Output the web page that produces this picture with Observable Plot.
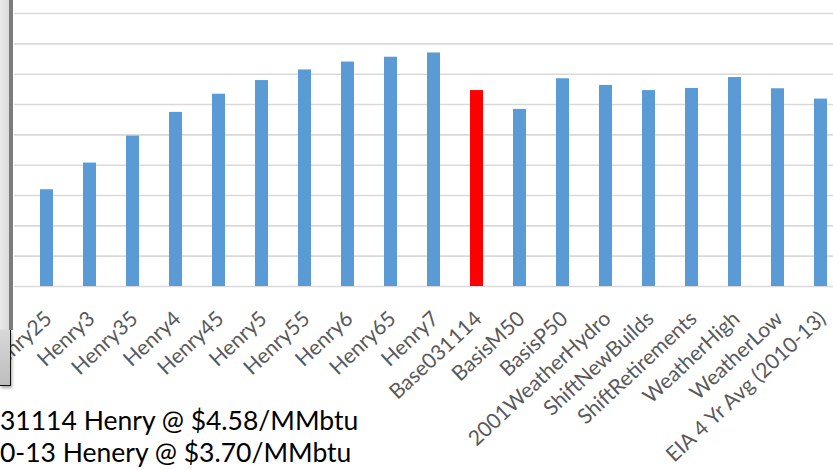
<!DOCTYPE html>
<html>
<head>
<meta charset="utf-8">
<script src="https://cdn.jsdelivr.net/npm/d3@7"></script>
<script src="https://cdn.jsdelivr.net/npm/@observablehq/plot@0.6"></script>
<style>
  html, body { margin: 0; padding: 0; background: #ffffff; overflow: hidden; }
  #wrap { position: relative; width: 833px; height: 470px; overflow: hidden; }
  #chart { position: absolute; left: 0; top: 0; }
  .note { position: absolute; font-family: Lato, "Open Sans", sans-serif; font-size: 26.5px; color: #000; white-space: nowrap; line-height: 1; }
  #panelTop { position: absolute; left: 0; top: 0; width: 9px; height: 330px;
    background: linear-gradient(to right, #e9e9e9, #dcdcdc); border-right: 4px solid #7c7c7c; }
  #panelBox { position: absolute; left: 0; top: 330px; width: 10px; height: 55px;
    background: linear-gradient(to bottom, #d8d8d8, #bdbdbd); border-right: 1.5px solid #111; border-bottom: 1.5px solid #111;
    box-shadow: 1px 2px 3px rgba(0,0,0,0.35); }
</style>
</head>
<body>
<div id="wrap">
  <div id="chart"></div>
  <div id="panelTop"></div>
  <div id="panelBox"></div>
  <div class="note" id="note1"></div>
  <div class="note" id="note2"></div>
</div>
<script>
// Scenario categories (x axis)
const scenarios = [
  "Henry25", "Henry3", "Henry35", "Henry4", "Henry45", "Henry5", "Henry55",
  "Henry6", "Henry65", "Henry7", "Base031114", "BasisM50", "BasisP50",
  "2001WeatherHydro", "ShiftNewBuilds", "ShiftRetirements", "WeatherHigh",
  "WeatherLow", "EIA 4 Yr Avg (2010-13)"
];
// Bar values (in gridline units; the value axis is cropped out of the reference)
const values = [
  3.19, 4.07, 4.96, 5.74, 6.34, 6.79, 7.14,
  7.40, 7.56, 7.70, 6.46, 5.84, 6.85,
  6.63, 6.46, 6.53, 6.89,
  6.52, 6.18
];
// Highlighted scenario
const highlight = "Base031114";
// Gridline values
const gridTicks = [0, 1, 2, 3, 4, 5, 6, 7, 8, 9];
// Notes below the chart
const notes = [
  "31114 Henry @ $4.58/MMbtu",
  "0-13 Henery @ $3.70/MMbtu"
];

const data = scenarios.map((name, i) => ({name, value: values[i], hi: name === highlight}));

const chart = Plot.plot({
  width: 833,
  height: 470,
  marginTop: 0,
  marginLeft: 14,
  marginRight: 0,
  marginBottom: 184,
  style: {background: "transparent", overflow: "visible"},
  x: {domain: scenarios, range: [39.25, 826.7], paddingInner: 0.7, paddingOuter: 0, axis: null},
  y: {domain: [0, 9.43], range: [286, 0], axis: null},
  marks: [
    Plot.gridY(gridTicks, {stroke: "#d9d9d9", strokeOpacity: 1, strokeWidth: 1.6}),
    Plot.barY(data, {x: "name", y: "value", fill: d => d.hi ? "#ff0000" : "#5b9bd5"}),
    Plot.text(data, {
      x: "name", y: () => 0, text: "name",
      rotate: -43, textAnchor: "end", lineAnchor: "top",
      dx: -4, dy: 23,
      fill: "#595959", fontSize: 21, fontFamily: "Lato, 'Open Sans', sans-serif"
    })
  ]
});
document.getElementById("chart").appendChild(chart);

const n1 = document.getElementById("note1");
const n2 = document.getElementById("note2");
n1.textContent = notes[0];
n2.textContent = notes[1];
n1.style.left = "0px"; n1.style.top = "407px";
n2.style.left = "0px"; n2.style.top = "439px";
</script>
</body>
</html>
